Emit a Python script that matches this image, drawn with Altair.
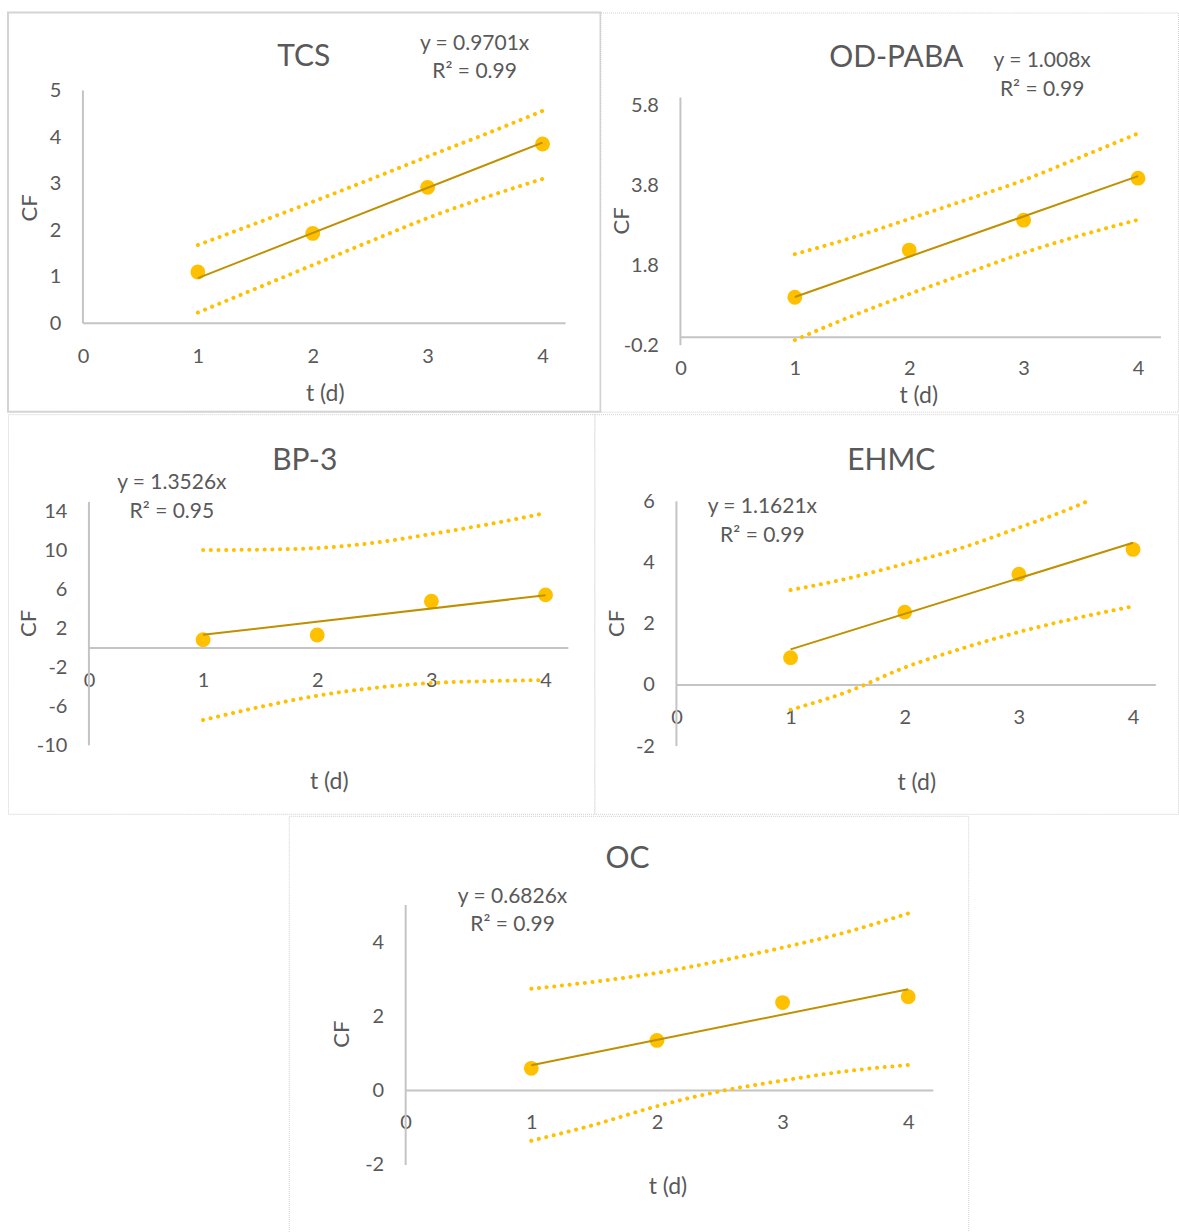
import altair as alt
import pandas as pd

# ---------------- data ----------------
t_days = [1, 2, 3, 4]
t_band = [1, 1.5, 2, 2.5, 3, 3.5, 4]
t_band_ehmc_upper = [1, 1.5, 2, 2.5, 3, 3.5, 3.6]

names = ["TCS", "OD-PABA", "BP-3", "EHMC", "OC"]
slopes = [0.9701, 1.008, 1.3526, 1.1621, 0.6826]
r_squared = [0.99, 0.99, 0.95, 0.99, 0.99]

cf_tcs = [1.10, 1.93, 2.92, 3.85]
cf_odpaba = [1.00, 2.18, 2.93, 3.98]
cf_bp3 = [0.85, 1.33, 4.80, 5.45]
cf_ehmc = [0.89, 2.38, 3.62, 4.43]
cf_oc = [0.60, 1.35, 2.37, 2.53]

upper_tcs = [1.68, 2.14, 2.61, 3.09, 3.58, 4.06, 4.56]
lower_tcs = [0.23, 0.74, 1.25, 1.76, 2.26, 2.70, 3.10]
upper_odpaba = [2.08, 2.49, 2.96, 3.44, 3.93, 4.51, 5.10]
lower_odpaba = [-0.07, 0.53, 1.08, 1.60, 2.11, 2.55, 2.94]
upper_bp3 = [10.05, 10.10, 10.26, 10.80, 11.70, 12.70, 13.85]
lower_bp3 = [-7.40, -6.05, -4.90, -4.10, -3.60, -3.40, -3.30]
upper_ehmc = [3.10, 3.48, 3.96, 4.48, 5.14, 5.84, 6.00]
lower_ehmc = [-0.81, -0.22, 0.57, 1.19, 1.73, 2.18, 2.57]
upper_oc = [2.74, 2.93, 3.17, 3.49, 3.85, 4.26, 4.77]
lower_oc = [-1.35, -0.92, -0.42, -0.02, 0.27, 0.52, 0.69]

x_ticks = [0, 1, 2, 3, 4]
y_ticks_tcs = [0, 1, 2, 3, 4, 5]
y_ticks_odpaba = [-0.2, 1.8, 3.8, 5.8]
y_ticks_bp3 = [-10, -6, -2, 2, 6, 10, 14]
y_ticks_ehmc = [-2, 0, 2, 4, 6]
y_ticks_oc = [-2, 0, 2, 4]

y_axis_ext = {"TCS": (0, 5), "OD-PABA": (-0.2, 6.0), "BP-3": (-10, 15),
              "EHMC": (-2, 6), "OC": (-2, 5)}
x_axis_max = 4.2

# ---------------- layout (pixels) ----------------
layout = {
    "TCS": dict(box=(8, 12, 593, 399.5), x0=83, y0=323, sx=115.0, sy=46.6,
                title=(304, 56), eq=(475, 44, 72), ytitle=(30, 207), xtitle=(325, 393),
                xpad=23, solid=True),
    "OD-PABA": dict(box=(601, 12, 578, 399.5), x0=681, y0=337, sx=114.5, sy=40.0,
                    title=(897, 57), eq=(1043, 61, 90), ytitle=(622, 220), xtitle=(919, 395),
                    xpad=21, solid=False),
    "BP-3": dict(box=(8, 413, 587, 400), x0=89, y0=647, sx=114.25, sy=9.75,
                 title=(305, 459), eq=(172, 482, 511), ytitle=(29, 622), xtitle=(329, 781),
                 xpad=23, solid=False),
    "EHMC": dict(box=(595, 413, 584, 400), x0=677, y0=684, sx=114.25, sy=30.625,
                 title=(892, 459), eq=(763, 506, 535), ytitle=(617, 622), xtitle=(917, 782),
                 xpad=23, solid=False),
    "OC": dict(box=(289, 814, 680, 418), x0=406, y0=1089, sx=125.75, sy=37.17,
               title=(628, 856), eq=(513, 895, 923), ytitle=(342, 1032), xtitle=(668, 1185),
               xpad=22, solid=False),
}

TEXT = "#595959"
GOLD = "#FFC000"
DARK_GOLD = "#BF9000"
AXIS = "#c4c4c4"


def panel(name, cf, up_t, up, lo_t, lo, slope, r2, y_ticks):
    lay = layout[name]
    L, T, W, H = lay["box"]
    x0, y0, sx, sy = lay["x0"], lay["y0"], lay["sx"], lay["sy"]
    xdom = [(L - x0) / sx, (L + W - x0) / sx]
    ydom = [(y0 - (T + H)) / sy, (y0 - T) / sy]

    rows = []
    for t, v in zip(t_days, cf):
        rows.append(dict(kind="point", t=t, v=v))
    for t in (t_days[0], t_days[-1]):
        rows.append(dict(kind="trend", t=t, v=slope * t))
    for t, v in zip(up_t, up):
        rows.append(dict(kind="upper", t=t, v=v))
    for t, v in zip(lo_t, lo):
        rows.append(dict(kind="lower", t=t, v=v))
    rows.append(dict(kind="xaxis", t=0, t2=x_axis_max, v=0))
    ymin, ymax = y_axis_ext[name]
    rows.append(dict(kind="yaxis", t=0, v=ymin, v2=ymax))
    df = pd.DataFrame(rows)

    xaxis = alt.Axis(values=x_ticks, title="t (d)", domain=False, ticks=False, tickSize=0,
                     grid=False, labelPadding=lay["xpad"], offset=-(T + H - y0),
                     labelFontSize=20, labelColor=TEXT, labelOverlap=False, labelFlush=False,
                     labelExpr="'' + datum.value",
                     titleX=lay["xtitle"][0] - L, titleY=lay["xtitle"][1] - y0,
                     titleAlign="center", titleBaseline="middle", titleFontSize=23,
                     titleColor=TEXT, titleFontWeight="normal")
    yaxis = alt.Axis(values=y_ticks, title="CF", domain=False, ticks=False, tickSize=0,
                     grid=False, labelPadding=22, offset=-(x0 - L),
                     labelFontSize=20, labelColor=TEXT, labelOverlap=False, labelFlush=False,
                     labelExpr="'' + datum.value",
                     titleX=lay["ytitle"][0] - x0, titleY=lay["ytitle"][1] - T,
                     titleAngle=270, titleAlign="center", titleBaseline="middle",
                     titleFontSize=22, titleColor=TEXT, titleFontWeight="normal")

    X = alt.X("t:Q", scale=alt.Scale(domain=xdom, nice=False, zero=False), axis=xaxis)
    Y = alt.Y("v:Q", scale=alt.Scale(domain=ydom, nice=False, zero=False), axis=yaxis)
    base = alt.Chart(df).encode(x=X, y=Y)

    x_rule = base.transform_filter(alt.datum.kind == "xaxis").mark_rule(
        color=AXIS, strokeWidth=2).encode(x2="t2:Q")
    y_rule = base.transform_filter(alt.datum.kind == "yaxis").mark_rule(
        color=AXIS, strokeWidth=2).encode(y2="v2:Q")
    bands = base.transform_filter(
        (alt.datum.kind == "upper") | (alt.datum.kind == "lower")
    ).mark_line(color=GOLD, strokeWidth=4, strokeDash=[0.1, 7.6], strokeCap="round",
                interpolate="monotone").encode(detail="kind:N", order="t:Q")
    pts = base.transform_filter(alt.datum.kind == "point").mark_circle(
        size=220, color=GOLD, opacity=1)
    trend = base.transform_filter(alt.datum.kind == "trend").mark_line(
        color=DARK_GOLD, strokeWidth=2)

    ex, ey1, ey2 = lay["eq"]
    eq1 = alt.Chart(pd.DataFrame({"s": [f"y = {slope}x"]})).mark_text(
        fontSize=21, color=TEXT, align="center", baseline="middle").encode(
        x=alt.value(ex - L), y=alt.value(ey1 - T), text="s:N")
    eq2 = alt.Chart(pd.DataFrame({"s": [f"R² = {r2}"]})).mark_text(
        fontSize=21, color=TEXT, align="center", baseline="middle").encode(
        x=alt.value(ex - L), y=alt.value(ey2 - T), text="s:N")

    tx, ty = lay["title"]
    if lay["solid"]:
        view = alt.ViewBackground(stroke="#d4d4d4", strokeWidth=2, fill="white")
    else:
        view = alt.ViewBackground(stroke="#d0d0d0", strokeWidth=1, strokeDash=[1, 1],
                                  fill="white")
    return alt.layer(x_rule, y_rule, bands, pts, trend, eq1, eq2).properties(
        width=W, height=H, view=view,
        title=alt.TitleParams(text=name, fontSize=30, color=TEXT, fontWeight="normal",
                              anchor="middle", frame="group", baseline="middle",
                              offset=-(ty - T + 31), dx=tx - (L + W / 2)),
    )


tcs = panel("TCS", cf_tcs, t_band, upper_tcs, t_band, lower_tcs, slopes[0], r_squared[0], y_ticks_tcs)
odp = panel("OD-PABA", cf_odpaba, t_band, upper_odpaba, t_band, lower_odpaba, slopes[1], r_squared[1], y_ticks_odpaba)
bp3 = panel("BP-3", cf_bp3, t_band, upper_bp3, t_band, lower_bp3, slopes[2], r_squared[2], y_ticks_bp3)
ehmc = panel("EHMC", cf_ehmc, t_band_ehmc_upper, upper_ehmc, t_band, lower_ehmc, slopes[3], r_squared[3], y_ticks_ehmc)
oc = panel("OC", cf_oc, t_band, upper_oc, t_band, lower_oc, slopes[4], r_squared[4], y_ticks_oc)

spacer = alt.Chart(pd.DataFrame({"a": [0]})).mark_point(opacity=0).encode(
    x=alt.value(140), y=alt.value(200)).properties(
    width=281, height=418, view=alt.ViewBackground(stroke="transparent"))

chart = alt.vconcat(
    alt.hconcat(tcs, odp, spacing=0, bounds="flush"),
    alt.hconcat(bp3, ehmc, spacing=0, bounds="flush"),
    alt.hconcat(spacer, oc, spacing=0, bounds="flush"),
    spacing=0,
).properties(
    padding={"left": 7, "top": 11, "right": 0, "bottom": 0},
    background="white",
).configure(font="Lato")

chart.save("out.html", embed_options={"renderer": "svg", "actions": False})
